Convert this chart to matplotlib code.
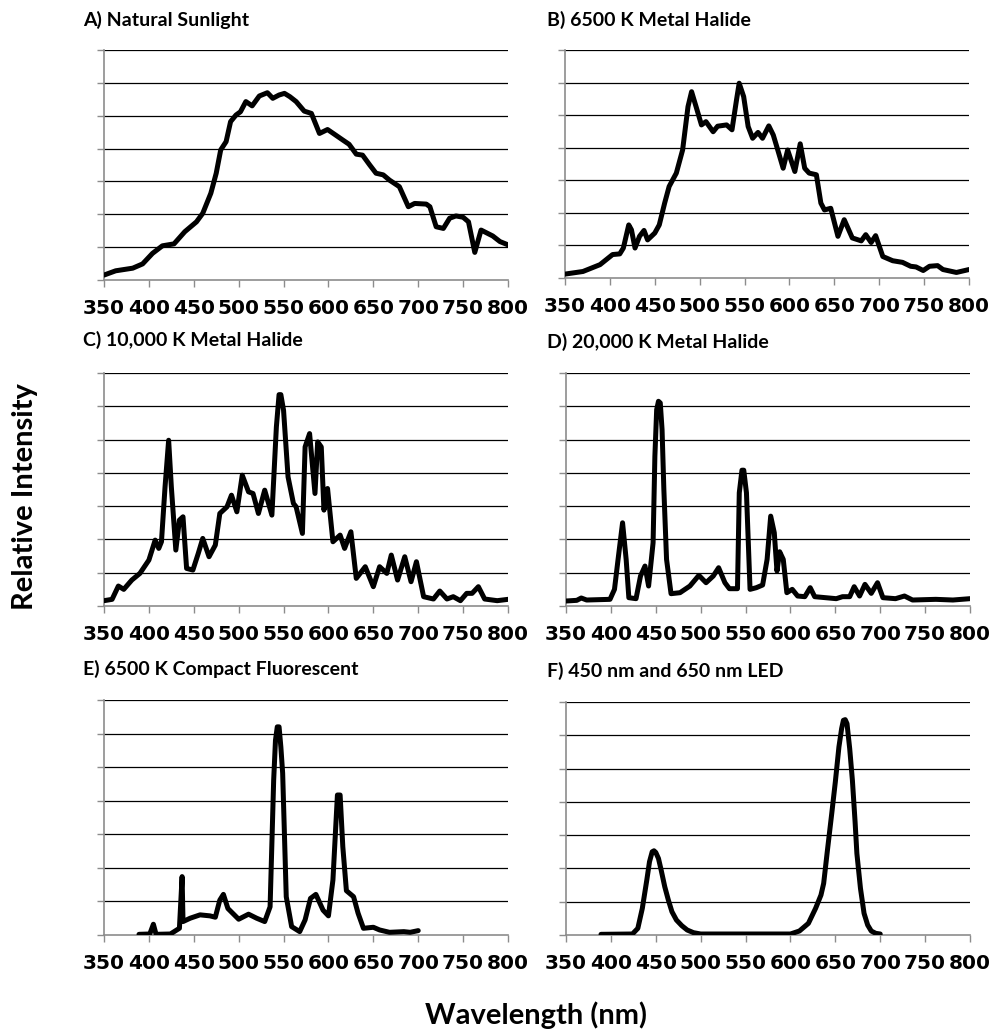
import matplotlib.pyplot as plt

# ==========================================
# データ (グラフから読み取った値, 縦軸はグリッド単位 0-7)
# ==========================================
wl_a = [350, 363, 382, 393, 404, 415, 428, 440, 453, 460, 469, 475, 480, 486, 491, 497,
        502, 508, 515, 523, 532, 538, 545, 551, 557, 564, 573, 581, 590, 599, 607, 616,
        623, 631, 638, 646, 653, 661, 668, 679, 689, 696, 709, 713, 720, 728, 735, 742,
        750, 756, 763, 770, 783, 791, 800]
int_a = [0.15, 0.28, 0.36, 0.49, 0.81, 1.04, 1.10, 1.47, 1.77, 2.03, 2.64, 3.25, 3.96, 4.21,
         4.82, 5.02, 5.12, 5.43, 5.30, 5.60, 5.70, 5.53, 5.63, 5.68, 5.58, 5.43, 5.14, 5.07,
         4.46, 4.58, 4.43, 4.26, 4.13, 3.83, 3.80, 3.50, 3.25, 3.20, 3.04, 2.84, 2.23, 2.33,
         2.31, 2.23, 1.62, 1.57, 1.88, 1.95, 1.91, 1.77, 0.84, 1.52, 1.34, 1.17, 1.07]

wl_b = [350, 370, 389, 403, 411, 415, 421, 424, 428, 433, 438, 442, 450, 455, 461, 466,
        474, 481, 487, 491, 496, 502, 507, 515, 520, 530, 536, 541, 544, 549, 554, 559,
        565, 570, 577, 582, 587, 593, 598, 606, 612, 617, 622, 630, 635, 639, 646, 654,
        661, 670, 680, 685, 691, 696, 704, 715, 726, 735, 741, 749, 756, 765, 771, 786, 800]
int_b = [0.12, 0.20, 0.41, 0.72, 0.74, 0.92, 1.63, 1.48, 0.92, 1.28, 1.46, 1.17, 1.38, 1.63,
         2.30, 2.81, 3.22, 3.93, 5.26, 5.72, 5.26, 4.70, 4.80, 4.49, 4.66, 4.70, 4.55, 5.46,
         5.98, 5.57, 4.65, 4.29, 4.47, 4.29, 4.67, 4.39, 3.93, 3.37, 3.93, 3.27, 4.12, 3.37,
         3.22, 3.17, 2.30, 2.09, 2.14, 1.28, 1.79, 1.23, 1.14, 1.33, 1.09, 1.30, 0.66, 0.53,
         0.48, 0.36, 0.34, 0.23, 0.36, 0.38, 0.26, 0.17, 0.26]

wl_c = [350, 359, 366, 372, 381, 390, 400, 407, 411, 414, 418, 422, 425, 430, 434, 438,
        442, 449, 455, 460, 467, 474, 479, 487, 492, 498, 504, 511, 516, 522, 529, 537,
        542, 545, 547, 550, 555, 561, 564, 571, 574, 579, 585, 588, 592, 595, 599, 605, 613,
        618, 625, 631, 641, 650, 657, 665, 670, 677, 685, 692, 698, 706, 717, 724, 732,
        739, 747, 754, 760, 767, 774, 788, 800]
int_c = [0.16, 0.20, 0.60, 0.50, 0.78, 0.98, 1.38, 1.98, 1.73, 1.93, 3.58, 4.98, 3.58, 1.68,
         2.58, 2.68, 1.13, 1.08, 1.58, 2.03, 1.48, 1.83, 2.78, 2.98, 3.33, 2.83, 3.93, 3.43,
         3.38, 2.78, 3.48, 2.73, 5.38, 6.35, 6.35, 5.88, 3.88, 3.08, 2.98, 2.18, 4.78, 5.18,
         3.38, 4.93, 4.78, 2.88, 3.53, 1.93, 2.13, 1.73, 2.23, 0.83, 1.18, 0.58, 1.18, 0.98,
         1.53, 0.78, 1.48, 0.73, 1.33, 0.28, 0.21, 0.45, 0.21, 0.28, 0.16, 0.38, 0.38, 0.58,
         0.21, 0.16, 0.20]

wl_d = [350, 362, 367, 373, 399, 404, 408, 413, 417, 420, 428, 433, 438, 442, 447, 449,
        451, 453, 455, 457, 459, 462, 467, 477, 488, 498, 506, 514, 520, 527, 532, 541,
        543, 546, 548, 551, 555, 562, 569, 574, 578, 582, 585, 588, 592, 596, 602, 608,
        616, 622, 627, 651, 658, 666, 671, 677, 683, 690, 697, 703, 717, 727, 736, 762,
        781, 800]
int_d = [0.15, 0.17, 0.24, 0.18, 0.20, 0.50, 1.40, 2.50, 1.40, 0.25, 0.22, 0.90, 1.20, 0.60,
         1.90, 4.50, 5.90, 6.15, 6.10, 5.30, 3.50, 1.40, 0.37, 0.40, 0.60, 0.92, 0.70, 0.90,
         1.15, 0.70, 0.52, 0.52, 3.40, 4.08, 4.08, 3.40, 0.50, 0.55, 0.63, 1.40, 2.70, 2.20,
         1.05, 1.63, 1.40, 0.40, 0.50, 0.30, 0.28, 0.55, 0.28, 0.22, 0.28, 0.28, 0.58, 0.30,
         0.65, 0.38, 0.70, 0.25, 0.22, 0.30, 0.18, 0.20, 0.18, 0.22]

wl_e = [389, 401, 405, 408, 424, 434, 437, 438, 446, 457, 468, 474, 479, 483, 488, 500,
        511, 520, 529, 535, 539, 541, 543, 545, 547, 549, 553, 559, 568, 574, 580, 586,
        594, 600, 605, 610, 613, 616, 620, 628, 633, 639, 650, 657, 668, 684, 691, 700]
int_e = [0.02, 0.03, 0.32, 0.02, 0.03, 0.20, 1.74, 0.40, 0.50, 0.60, 0.57, 0.53, 1.04, 1.21,
         0.79, 0.47, 0.62, 0.50, 0.40, 0.84, 4.62, 5.80, 6.20, 6.20, 5.60, 4.82, 1.14, 0.25,
         0.10, 0.45, 1.09, 1.21, 0.74, 0.57, 1.64, 4.17, 4.17, 2.63, 1.32, 1.14, 0.65, 0.20,
         0.23, 0.15, 0.08, 0.10, 0.08, 0.13]

wl_f = [389, 424, 430, 435, 440, 443, 446, 448, 450, 453, 456, 460, 464, 468, 473, 479,
        485, 492, 500, 600, 610, 620, 628, 634, 637, 641, 646, 650, 654, 657, 659, 661,
        663, 666, 669, 672, 674, 678, 682, 686, 690, 695, 700]
int_f = [0.02, 0.03, 0.20, 0.80, 1.65, 2.20, 2.50, 2.53, 2.48, 2.30, 1.95, 1.45, 1.05, 0.70,
         0.45, 0.28, 0.15, 0.07, 0.03, 0.03, 0.12, 0.35, 0.80, 1.20, 1.55, 2.50, 3.65, 4.60,
         5.65, 6.20, 6.45, 6.47, 6.35, 5.60, 4.65, 3.40, 2.45, 1.40, 0.65, 0.30, 0.12, 0.05,
         0.03]

titles = ["A) Natural Sunlight", "B) 6500 K Metal Halide", "C) 10,000 K Metal Halide",
          "D) 20,000 K Metal Halide", "E) 6500 K Compact Fluorescent", "F) 450 nm and 650 nm LED"]
x_ticks = [350, 400, 450, 500, 550, 600, 650, 700, 750, 800]
y_ticks = [0, 1, 2, 3, 4, 5, 6, 7]

series = [(wl_a, int_a), (wl_b, int_b), (wl_c, int_c),
          (wl_d, int_d), (wl_e, int_e), (wl_f, int_f)]

# ==========================================
# レイアウト (ピクセル位置 -> figure座標)
# ==========================================
W, H = 994, 1034
# (left, right, top, bottom) in px
boxes = [(104, 508, 50, 280), (565, 969, 50, 278),
         (104, 508, 373, 606), (566, 970, 373, 606),
         (104, 508, 700, 935), (566, 970, 702, 935)]
title_pos = [(83, 20), (547, 20), (83, 340), (547, 342), (83, 669), (547, 671)]

title_font = ["Lato", "DejaVu Sans"]
gray = "#8c8c8c"

fig = plt.figure(figsize=(W / 100, H / 100), dpi=100)

for (xs, ys), title, (l, r, t, b), (tx, ty) in zip(series, titles, boxes, title_pos):
    ax = fig.add_axes([l / W, 1 - b / H, (r - l) / W, (b - t) / H])
    ax.plot(xs, ys, color="black", lw=3.6, solid_joinstyle="round", solid_capstyle="round",
            zorder=3)
    ax.set_xlim(350, 800)
    ax.set_ylim(0, 7)
    ax.set_xticks(x_ticks)
    ax.set_yticks(y_ticks)
    ax.set_yticklabels([])
    ax.set_xticklabels([str(v) for v in x_ticks], fontsize=14.5, fontweight="bold",
                       family="DejaVu Sans")
    # 横グリッド (上端の線を含む)
    for yv in y_ticks[1:]:
        ax.axhline(yv, color="black", lw=0.9, zorder=1)
    ax.spines["top"].set_visible(False)
    ax.spines["right"].set_visible(False)
    ax.spines["left"].set_color(gray)
    ax.spines["bottom"].set_color(gray)
    ax.spines["left"].set_linewidth(1.2)
    ax.spines["bottom"].set_linewidth(1.2)
    ax.tick_params(axis="both", direction="out", length=5, width=1.0, color=gray)
    ax.tick_params(axis="x", pad=9)
    ax.patch.set_alpha(0)
    fig.text(tx / W, 1 - ty / H, title, fontsize=14, fontweight="bold",
             family=title_font, ha="left", va="center")

fig.text(25 / W, 1 - 497 / H, "Relative Intensity", rotation=90, fontsize=21,
         fontweight="bold", family=title_font, ha="center", va="center")
fig.text(536 / W, 1 - 1015 / H, "Wavelength (nm)", fontsize=21,
         fontweight="bold", family=title_font, ha="center", va="center")

fig.savefig("out.png", dpi=100)
